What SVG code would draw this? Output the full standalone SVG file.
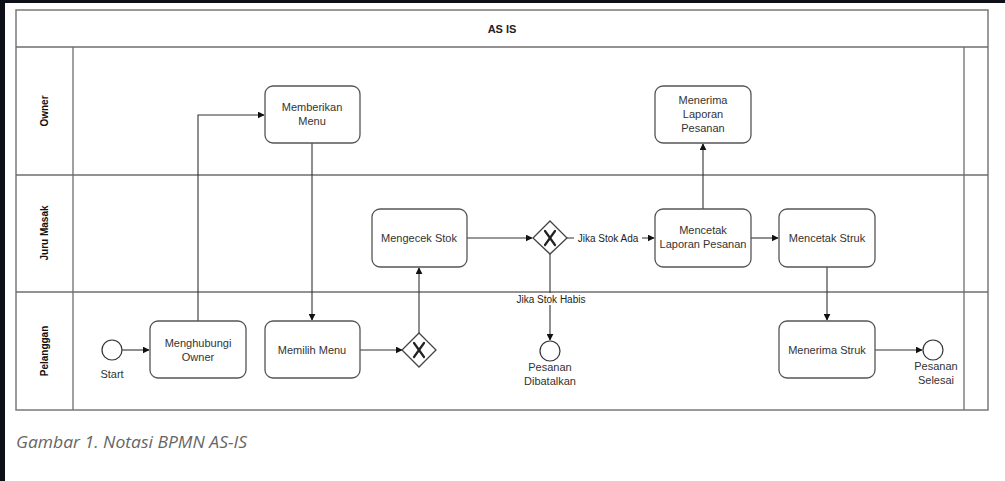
<svg xmlns="http://www.w3.org/2000/svg" width="1005" height="481" viewBox="0 0 1005 481">
  <style>
    .pool { fill: #ffffff; stroke: #7a7a7a; stroke-width: 1.5; }
    .lane { fill: none; stroke: #6e6e6e; stroke-width: 1.3; }
    .task { fill: #ffffff; stroke: #555555; stroke-width: 1.3; }
    .event { fill: #ffffff; stroke: #333333; stroke-width: 1.2; }
    .gw { fill: #ffffff; stroke: #444444; stroke-width: 1.3; }
    .gwx { stroke: #222222; stroke-width: 2.2; stroke-linecap: round; }
    .flow { fill: none; stroke: #333333; stroke-width: 1.1; }
    .t { font-family: "Liberation Sans", Arial, Helvetica, sans-serif; font-size: 11px; fill: #333333; text-anchor: middle; }
    .lbl { font-family: "Liberation Sans", Arial, Helvetica, sans-serif; font-size: 10px; fill: #222222; text-anchor: middle; }
    .lanehead { font-family: "Liberation Sans", Arial, Helvetica, sans-serif; font-size: 10px; font-weight: bold; fill: #111111; text-anchor: middle; }
    .title { font-family: "Liberation Sans", Arial, Helvetica, sans-serif; font-size: 11px; font-weight: bold; fill: #222222; text-anchor: middle; }
    .caption { font-family: "Open Sans", "Liberation Sans", sans-serif; font-size: 15.5px; font-style: italic; fill: #666666; }
  </style>
  <defs>
    <marker id="arrow" viewBox="0 0 10 10" refX="9" refY="5" markerWidth="7" markerHeight="7" markerUnits="userSpaceOnUse" orient="auto">
      <path d="M0,0 L10,5 L0,10 z" fill="#111111"/>
    </marker>
  </defs>

  <!-- page -->
  <rect x="0" y="0" width="1005" height="481" fill="#ffffff"/>
  <rect x="0" y="0" width="5" height="481" fill="#0d1117"/>
  <rect x="0" y="0" width="1005" height="3" fill="#0d1117"/>

  <!-- pool and lanes -->
  <g id="pool">
    <rect class="pool" x="16" y="10" width="972" height="400"/>
    <line class="lane" x1="16" y1="47" x2="988" y2="47"/>
    <line class="lane" x1="16" y1="175" x2="988" y2="175"/>
    <line class="lane" x1="16" y1="292" x2="988" y2="292"/>
    <line class="lane" x1="73" y1="47" x2="73" y2="410"/>
    <line class="lane" x1="964" y1="47" x2="964" y2="410"/>
    <text class="title" x="502" y="33">AS IS</text>
    <text class="lanehead" transform="translate(48,111) rotate(-90)">Owner</text>
    <text class="lanehead" transform="translate(48,233) rotate(-90)">Juru Masak</text>
    <text class="lanehead" transform="translate(48,351) rotate(-90)">Pelanggan</text>
  </g>

  <!-- connectors -->
  <g id="connectors">
    <path class="flow" d="M122,350 L149,350" marker-end="url(#arrow)"/>
    <path class="flow" d="M198,321 L198,115 L264,115" marker-end="url(#arrow)"/>
    <path class="flow" d="M312,143 L312,320" marker-end="url(#arrow)"/>
    <path class="flow" d="M360,350 L402,350" marker-end="url(#arrow)"/>
    <path class="flow" d="M419,333 L419,268" marker-end="url(#arrow)"/>
    <path class="flow" d="M467,238 L532,238" marker-end="url(#arrow)"/>
    <path class="flow" d="M567,238 L654,238" marker-end="url(#arrow)"/>
    <path class="flow" d="M550,254 L550,340" marker-end="url(#arrow)"/>
    <path class="flow" d="M703,209 L703,144" marker-end="url(#arrow)"/>
    <path class="flow" d="M751,238 L778,238" marker-end="url(#arrow)"/>
    <path class="flow" d="M827,267 L827,320" marker-end="url(#arrow)"/>
    <path class="flow" d="M875,350 L922,350" marker-end="url(#arrow)"/>
    <rect x="574" y="232" width="68" height="12" fill="#ffffff"/>
    <text class="lbl" x="608" y="242">Jika Stok Ada</text>
    <rect x="515" y="293" width="72" height="12" fill="#ffffff"/>
    <text class="lbl" x="551" y="303">Jika Stok Habis</text>
  </g>

  <!-- events -->
  <g id="start">
    <circle class="event" cx="112" cy="350" r="10"/>
    <text class="t" x="112" y="378">Start</text>
  </g>
  <g id="end-dibatalkan">
    <circle class="event" cx="550" cy="351" r="10"/>
    <text class="t" x="550" y="371">Pesanan</text>
    <text class="t" x="550" y="385">Dibatalkan</text>
  </g>
  <g id="end-selesai">
    <circle class="event" cx="933" cy="350" r="10"/>
    <text class="t" x="936" y="370">Pesanan</text>
    <text class="t" x="936" y="384">Selesai</text>
  </g>

  <!-- tasks -->
  <g id="menghubungi-owner">
    <rect class="task" x="150" y="321" width="96" height="57" rx="8"/>
    <text class="t" x="198" y="347">Menghubungi</text>
    <text class="t" x="198" y="361">Owner</text>
  </g>
  <g id="memberikan-menu">
    <rect class="task" x="265" y="86" width="95" height="57" rx="8"/>
    <text class="t" x="312" y="111">Memberikan</text>
    <text class="t" x="312" y="125">Menu</text>
  </g>
  <g id="memilih-menu">
    <rect class="task" x="265" y="321" width="95" height="57" rx="8"/>
    <text class="t" x="312" y="354">Memilih Menu</text>
  </g>
  <g id="mengecek-stok">
    <rect class="task" x="372" y="209" width="95" height="58" rx="8"/>
    <text class="t" x="419" y="242">Mengecek Stok</text>
  </g>
  <g id="menerima-laporan">
    <rect class="task" x="655" y="86" width="96" height="57" rx="8"/>
    <text class="t" x="703" y="104">Menerima</text>
    <text class="t" x="703" y="118">Laporan</text>
    <text class="t" x="703" y="132">Pesanan</text>
  </g>
  <g id="mencetak-laporan">
    <rect class="task" x="655" y="209" width="96" height="58" rx="8"/>
    <text class="t" x="703" y="234">Mencetak</text>
    <text class="t" x="703" y="248">Laporan Pesanan</text>
  </g>
  <g id="mencetak-struk">
    <rect class="task" x="779" y="209" width="96" height="58" rx="8"/>
    <text class="t" x="827" y="242">Mencetak Struk</text>
  </g>
  <g id="menerima-struk">
    <rect class="task" x="779" y="321" width="96" height="57" rx="8"/>
    <text class="t" x="827" y="354">Menerima Struk</text>
  </g>

  <!-- gateways -->
  <g id="gateway-menu">
    <path class="gw" d="M419,333 L436,350 L419,367 L402,350 z"/>
    <line class="gwx" x1="414" y1="343" x2="424" y2="357"/>
    <line class="gwx" x1="424" y1="343" x2="414" y2="357"/>
  </g>
  <g id="gateway-stok">
    <path class="gw" d="M550,221 L567,238 L550,254 L533,238 z"/>
    <line class="gwx" x1="545" y1="231" x2="555" y2="245"/>
    <line class="gwx" x1="555" y1="231" x2="545" y2="245"/>
  </g>

  <text class="caption" x="16" y="448" textLength="231" lengthAdjust="spacingAndGlyphs">Gambar 1. Notasi BPMN AS-IS</text>
</svg>
